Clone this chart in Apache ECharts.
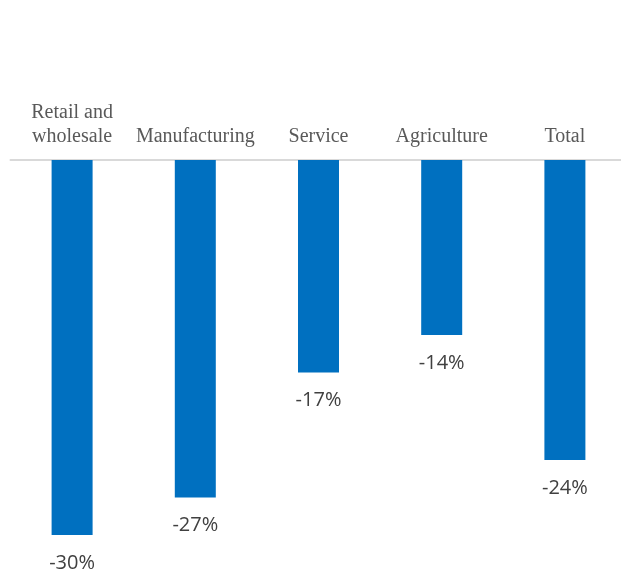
<!DOCTYPE html>
<html>
<head>
<meta charset="utf-8">
<script src="https://cdn.jsdelivr.net/npm/echarts@6/dist/echarts.min.js"></script>
<style>html,body{margin:0;padding:0;background:#fff;overflow:hidden;}#c{width:630px;height:575px;}</style>
</head>
<body>
<div id="c"></div>
<script>
const categories = ['Retail and\nwholesale', 'Manufacturing', 'Service', 'Agriculture', 'Total'];
const values = [-30, -27, -17, -14, -24];

const chart = echarts.init(document.getElementById('c'));
chart.setOption({
  animation: false,
  grid: { left: 10.5, width: 616, top: 160, bottom: 40 },
  xAxis: {
    type: 'category',
    position: 'top',
    data: categories,
    axisLine: { lineStyle: { color: '#d9d9d9', width: 2 } },
    axisTick: { show: false },
    axisLabel: {
      interval: 0,
      margin: 11,
      fontFamily: 'Liberation Serif',
      fontSize: 20,
      lineHeight: 24,
      color: '#595959'
    }
  },
  yAxis: {
    type: 'value',
    min: -30,
    max: 0,
    show: false,
    splitLine: { show: false }
  },
  series: [{
    type: 'bar',
    data: values,
    barWidth: 41,
    itemStyle: { color: '#0070C0' },
    label: {
      show: true,
      position: 'bottom',
      distance: 18,
      formatter: p => p.value + '%',
      fontFamily: 'Open Sans',
      fontSize: 20,
      color: '#404040'
    }
  }]
});
</script>
</body>
</html>
